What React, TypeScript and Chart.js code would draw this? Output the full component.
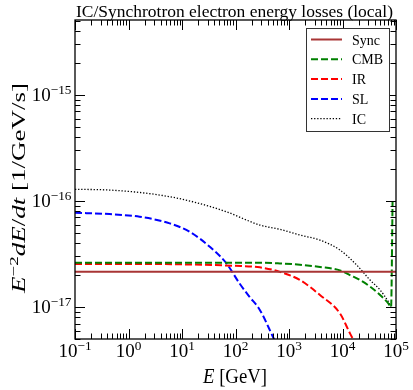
import React, { useEffect, useRef } from "react";
import { Chart, registerables } from "chart.js";

Chart.register(...registerables);

const TITLE = "IC/Synchrotron electron energy losses (local)";
const X_MIN = 0.1;
const X_MAX = 1e5;
const Y_MIN = 5e-18;
const Y_MAX = 5.1e-15;
const X_DECADES = [-1, 0, 1, 2, 3, 4, 5];
const Y_DECADES = [-17, -16, -15];

const LABELS = ["Sync", "CMB", "IR", "SL", "IC"];

const syncE = [0.1, 1e5];
const syncLoss = [2.15e-17, 2.15e-17];

const cmbE = [0.1, 1, 10, 100, 285, 676, 1600, 3790, 8970, 13800, 21300, 32700, 50400, 71100, 80900, 86300];
const cmbLoss = [2.62e-17, 2.62e-17, 2.62e-17, 2.62e-17, 2.62e-17, 2.58e-17, 2.51e-17, 2.39e-17, 2.22e-17, 2.0e-17, 1.8e-17, 1.56e-17, 1.3e-17, 1.09e-17, 1.0e-17, 1.0e-16];

const irE = [0.1, 1, 10, 98, 285, 676, 1600, 3790, 8970, 13800, 16400];
const irLoss = [2.55e-17, 2.55e-17, 2.53e-17, 2.45e-17, 2.37e-17, 2.15e-17, 1.8e-17, 1.3e-17, 8.7e-18, 5.65e-18, 4.8e-18];

const slE = [0.1, 0.443, 1.61, 5.89, 13.9, 33.0, 67.8, 119, 183, 285, 500, 600];
const slLoss = [7.76e-17, 7.53e-17, 7.11e-17, 6.16e-17, 5.13e-17, 3.71e-17, 2.58e-17, 1.67e-17, 1.25e-17, 9.4e-18, 5.25e-18, 4.3e-18];

const icE = [0.1, 0.443, 3.82, 16.1, 67.8, 285, 676, 1600, 3790, 8970, 18450, 32700, 50400, 72100, 80000];
const icLoss = [1.29e-16, 1.27e-16, 1.14e-16, 9.84e-17, 7.92e-17, 5.94e-17, 5.41e-17, 4.78e-17, 4.28e-17, 3.45e-17, 2.49e-17, 1.8e-17, 1.45e-17, 1.12e-17, 1.01e-17];

const FONT = '"Liberation Serif", "DejaVu Serif", serif';

type Run = { t: string; it?: boolean; sup?: boolean };

function runFont(r: Run, size: number) {
  return `${r.it ? "italic " : ""}${r.sup ? size * 0.7 : size}px ${FONT}`;
}
function runsWidth(ctx: CanvasRenderingContext2D, runs: Run[], size: number) {
  let w = 0;
  for (const r of runs) {
    ctx.font = runFont(r, size);
    w += ctx.measureText(r.t).width;
  }
  return w;
}
function drawRuns(ctx: CanvasRenderingContext2D, runs: Run[], size: number, x: number, y: number) {
  let cx = x;
  ctx.textAlign = "left";
  ctx.textBaseline = "alphabetic";
  for (const r of runs) {
    ctx.font = runFont(r, size);
    ctx.fillText(r.t, cx, r.sup ? y - size * 0.36 : y);
    cx += ctx.measureText(r.t).width;
  }
}
// draw runs at a fixed size, stretched horizontally so they span `target` px, centred at cx
function drawStretched(ctx: CanvasRenderingContext2D, runs: Run[], size: number, target: number, cx: number, y: number) {
  const w = runsWidth(ctx, runs, size);
  const sx = target / w;
  ctx.save();
  ctx.translate(cx - target / 2, y);
  ctx.scale(sx, 1);
  drawRuns(ctx, runs, size, 0, 0);
  ctx.restore();
}

function mk(label: string, xs: number[], ys: number[], color: string, width: number, dash: number[]) {
  return {
    label,
    data: xs.map((x, i) => ({ x, y: ys[i] })),
    borderColor: color,
    backgroundColor: color,
    borderWidth: width,
    borderDash: dash,
    pointRadius: 0,
    fill: false,
    cubicInterpolationMode: "monotone" as const,
  };
}

const decorPlugin = {
  id: "decor",
  afterDraw(chart: any) {
    const ctx: CanvasRenderingContext2D = chart.ctx;
    const a = chart.chartArea;
    const xs = chart.scales.x;
    const ys = chart.scales.y;
    ctx.save();
    ctx.fillStyle = "#000";
    ctx.strokeStyle = "#000";

    // ticks
    ctx.lineWidth = 1;
    const xTick = (v: number, len: number) => {
      const p = Math.round(xs.getPixelForValue(v)) + 0.5;
      ctx.beginPath();
      ctx.moveTo(p, a.bottom);
      ctx.lineTo(p, a.bottom - len);
      ctx.moveTo(p, a.top);
      ctx.lineTo(p, a.top + len);
      ctx.stroke();
    };
    const yTick = (v: number, len: number) => {
      const p = Math.round(ys.getPixelForValue(v)) + 0.5;
      ctx.beginPath();
      ctx.moveTo(a.left, p);
      ctx.lineTo(a.left + len, p);
      ctx.moveTo(a.right, p);
      ctx.lineTo(a.right - len, p);
      ctx.stroke();
    };
    for (let d = -2; d <= 5; d++) {
      for (let m = 1; m <= 9; m++) {
        const v = m * Math.pow(10, d);
        if (v < X_MIN * 0.999 || v > X_MAX * 1.001) continue;
        xTick(v, m === 1 ? 10 : 5.5);
      }
    }
    for (let d = -19; d <= -14; d++) {
      for (let m = 1; m <= 9; m++) {
        const v = m * Math.pow(10, d);
        if (v < Y_MIN || v > Y_MAX) continue;
        yTick(v, m === 1 ? 10 : 5.5);
      }
    }

    // frame
    ctx.lineWidth = 1.3;
    ctx.strokeRect(a.left, a.top, a.right - a.left, a.bottom - a.top);

    // tick labels
    const TS = 19;
    for (const d of X_DECADES) {
      const p = xs.getPixelForValue(Math.pow(10, d));
      const runs: Run[] = [{ t: "10" }, { t: String(d).replace("-", "\u2212"), sup: true }];
      const w = runsWidth(ctx, runs, TS);
      drawRuns(ctx, runs, TS, p - w / 2, 357);
    }
    for (const d of Y_DECADES) {
      const p = ys.getPixelForValue(Math.pow(10, d));
      const runs: Run[] = [{ t: "10" }, { t: String(d).replace("-", "\u2212"), sup: true }];
      const w = runsWidth(ctx, runs, TS);
      drawRuns(ctx, runs, TS, 71.5 - w, p + 6);
    }

    // title
    drawStretched(ctx, [{ t: TITLE }], 17, 317, 234.5, 17);

    // x label
    drawStretched(ctx, [{ t: "E", it: true }, { t: " [GeV]" }], 20, 64, 235, 383);

    // y label
    const yRuns: Run[] = [
      { t: "E", it: true },
      { t: "\u22122", sup: true },
      { t: "dE", it: true },
      { t: "/" },
      { t: "dt", it: true },
      { t: " [1/GeV/s]" },
    ];
    ctx.save();
    ctx.translate(25, 188);
    ctx.rotate(-Math.PI / 2);
    drawStretched(ctx, yRuns, 19, 210, 0, 0);
    ctx.restore();

    // legend
    const lx0 = 306, ly0 = 28, lx1 = 389, ly1 = 131;
    ctx.fillStyle = "#fff";
    ctx.fillRect(lx0, ly0, lx1 - lx0, ly1 - ly0);
    ctx.strokeStyle = "#333";
    ctx.lineWidth = 1;
    ctx.strokeRect(lx0 + 0.5, ly0 + 0.5, lx1 - lx0, ly1 - ly0);
    chart.data.datasets.forEach((ds: any, i: number) => {
      const y = 39.5 + i * 19.8;
      ctx.strokeStyle = ds.borderColor;
      ctx.lineWidth = ds.borderWidth;
      ctx.setLineDash(ds.borderDash || []);
      ctx.beginPath();
      ctx.moveTo(311, y);
      ctx.lineTo(342, y);
      ctx.stroke();
      ctx.setLineDash([]);
      ctx.fillStyle = "#000";
      ctx.font = `14px ${FONT}`;
      ctx.textAlign = "left";
      ctx.textBaseline = "alphabetic";
      ctx.fillText(ds.label, 352, y + 5);
    });
    ctx.restore();
  },
};

export default function App() {
  const ref = useRef<HTMLCanvasElement>(null);
  useEffect(() => {
    if (!ref.current) return;
    const chart = new Chart(ref.current, {
      type: "line",
      data: {
        datasets: [
          mk(LABELS[0], syncE, syncLoss, "#a83535", 2, []),
          mk(LABELS[1], cmbE, cmbLoss, "#008000", 2, [7, 3]),
          mk(LABELS[2], irE, irLoss, "#ff0000", 2, [7, 3]),
          mk(LABELS[3], slE, slLoss, "#0000ff", 2, [7, 3]),
          mk(LABELS[4], icE, icLoss, "#000000", 1.3, [1.3, 1.8]),
        ] as any,
      },
      options: {
        animation: false,
        responsive: false,
        devicePixelRatio: 1,
        layout: { padding: { left: 75, right: 17, top: 20, bottom: 51 } },
        scales: {
          x: { type: "logarithmic", min: X_MIN, max: X_MAX, display: false },
          y: { type: "logarithmic", min: Y_MIN, max: Y_MAX, display: false },
        },
        plugins: {
          legend: { display: false },
          tooltip: { enabled: false },
          title: { display: false },
        },
      },
      plugins: [decorPlugin],
    });
    return () => chart.destroy();
  }, []);
  return (
    <div style={{ position: "absolute", left: 0, top: 0, width: 413, height: 390, background: "#fff" }}>
      <canvas ref={ref} width={413} height={390} style={{ display: "block" }} />
    </div>
  );
}
